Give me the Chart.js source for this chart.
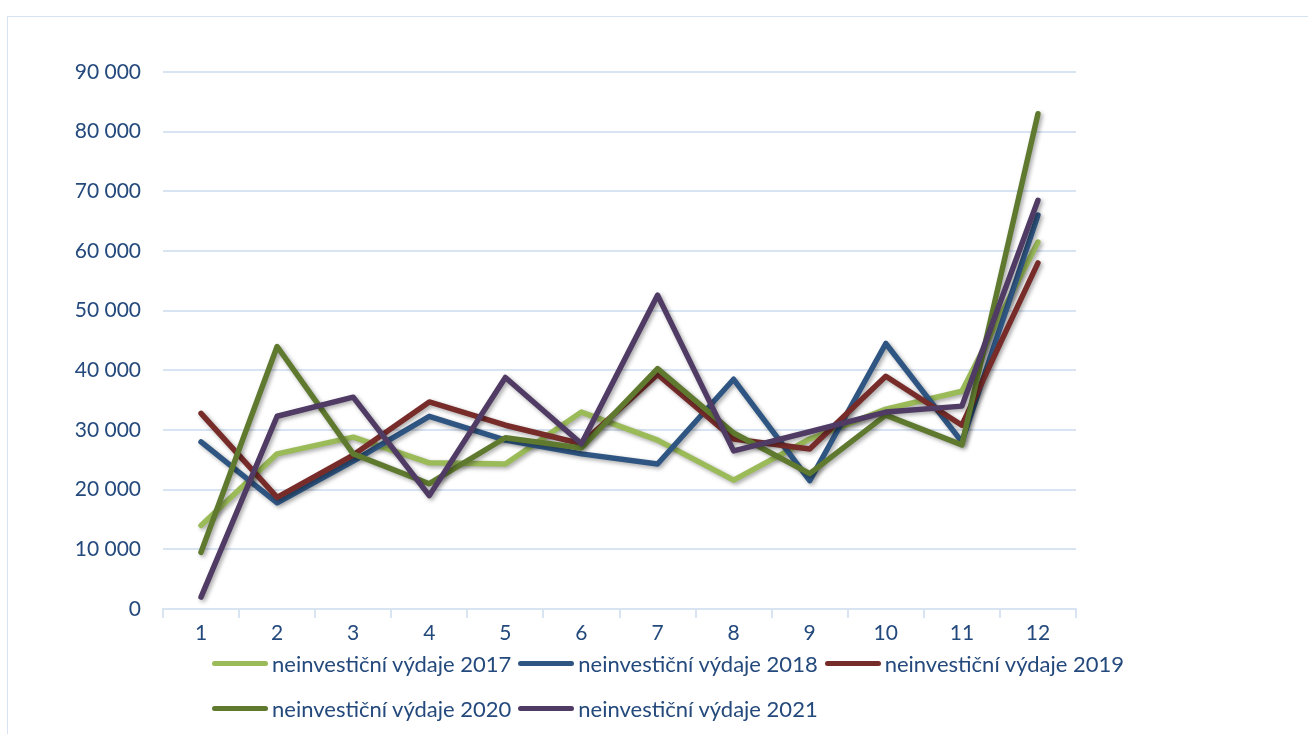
<!DOCTYPE html>
<html>
<head>
<meta charset="utf-8">
<script src="https://cdn.jsdelivr.net/npm/chart.js@4/dist/chart.umd.min.js"></script>
<style>
  body { margin: 0; background: #fff; font-family: Lato, "Open Sans", sans-serif; }
  #wrap { position: relative; width: 1308px; height: 734px; overflow: hidden; }
  #frame { position: absolute; left: 7px; top: 16px; width: 1320px; height: 740px; border: 1px solid #d6e2f1; }
  canvas { position: absolute; left: 0; top: 0; }
  #legend { position: absolute; left: 212px; top: 648px; width: 1050px; }
  .row { display: flex; align-items: center; height: 30px; margin-bottom: 15px; }
  .item { display: flex; align-items: center; margin-right: 7px; }
  .swatch { width: 56px; height: 5px; border-radius: 3px; margin-right: 4px; }
  .lbl { font-size: 22px; color: #24497c; white-space: nowrap; }
</style>
</head>
<body>
<div id="wrap">
  <div id="frame"></div>
  <canvas id="chart" width="1308" height="734"></canvas>
  <div id="legend"></div>
</div>
<script>
const months = ['1', '2', '3', '4', '5', '6', '7', '8', '9', '10', '11', '12'];
const seriesNames = ['neinvestiční výdaje 2017', 'neinvestiční výdaje 2018', 'neinvestiční výdaje 2019', 'neinvestiční výdaje 2020', 'neinvestiční výdaje 2021'];
const v2017 = [14000, 26000, 28800, 24500, 24300, 33000, 28300, 21600, 28500, 33500, 36500, 61500];
const v2018 = [28000, 17800, 24800, 32300, 28300, 26000, 24300, 38500, 21500, 44500, 28000, 66000];
const v2019 = [32800, 18700, 25800, 34700, 30800, 27700, 39300, 28500, 26800, 39000, 30800, 58000];
const v2020 = [9500, 44000, 26000, 21000, 28700, 27000, 40300, 29500, 22700, 32500, 27500, 83000];
const v2021 = [2000, 32300, 35500, 19000, 38800, 27700, 52600, 26500, 29700, 33000, 34000, 68500];
const colors = ['#9bbb59', '#2f5683', '#772c2a', '#5f7a2f', '#4f3b64'];

const textColor = '#24497c';
const gridColor = '#d9e4f3';
const allValues = [v2017, v2018, v2019, v2020, v2021];

const shadow = {
  id: 'shadow',
  beforeDatasetDraw(chart) {
    const ctx = chart.ctx;
    ctx.save();
    ctx.shadowColor = 'rgba(0,0,0,0.35)';
    ctx.shadowBlur = 4;
    ctx.shadowOffsetX = 2;
    ctx.shadowOffsetY = 2;
  },
  afterDatasetDraw(chart) {
    chart.ctx.restore();
  }
};

const chart = new Chart(document.getElementById('chart'), {
  type: 'line',
  data: {
    labels: months,
    datasets: allValues.map((vals, i) => ({
      label: seriesNames[i],
      data: vals,
      borderColor: colors[i],
      backgroundColor: colors[i],
      borderWidth: 5.5,
      pointRadius: 0,
      tension: 0,
      borderJoinStyle: 'round',
      borderCapStyle: 'round',
      order: 4 - i
    }))
  },
  options: {
    responsive: false,
    animation: false,
    layout: { padding: { left: 20, right: 232, top: 72, bottom: 0 } },
    plugins: { legend: { display: false }, tooltip: { enabled: false } },
    scales: {
      x: {
        offset: true,
        grid: { offset: true, drawOnChartArea: false, color: gridColor, lineWidth: 2, tickLength: 9 },
        border: { color: gridColor, width: 2 },
        ticks: { color: textColor, font: { family: 'Lato', size: 21 }, padding: 3 },
        afterFit(scale) { scale.height = 125; }
      },
      y: {
        min: 0,
        max: 90000,
        grid: { color: gridColor, lineWidth: 2, drawTicks: false },
        border: { display: false },
        ticks: {
          stepSize: 10000,
          color: textColor,
          font: { family: 'Lato', size: 21 },
          padding: 22,
          callback: v => v === 0 ? '0' : String(v / 1000) + ' 000'
        },
        afterFit(scale) { scale.width = 143; }
      }
    }
  },
  plugins: [shadow]
});

// legend rows like the original: 3 items then 2
const legend = document.getElementById('legend');
[[0, 1, 2], [3, 4]].forEach(idx => {
  const row = document.createElement('div');
  row.className = 'row';
  idx.forEach(i => {
    const ds = chart.data.datasets[i];
    const item = document.createElement('div');
    item.className = 'item';
    item.innerHTML = `<span class="swatch" style="background:${ds.borderColor}"></span><span class="lbl">${ds.label}</span>`;
    row.appendChild(item);
  });
  legend.appendChild(row);
});
</script>
</body>
</html>
